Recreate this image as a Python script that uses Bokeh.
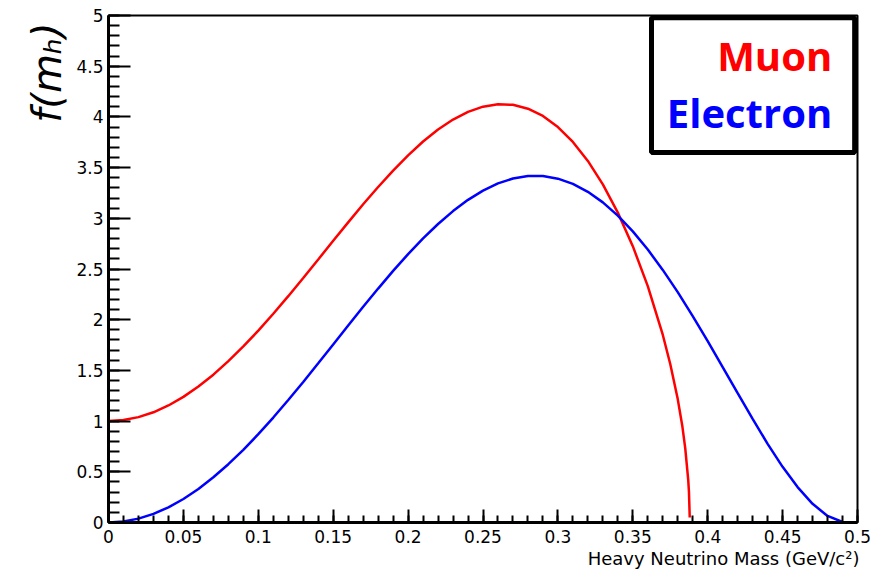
from bokeh.plotting import figure
from bokeh.models import (Range1d, SingleIntervalTicker, CustomJSTickFormatter,
                          Label, BoxAnnotation, Title)
from bokeh.embed import file_html
from bokeh.resources import INLINE

# ---- data ----
mass_mu = [0.00, 0.01, 0.02, 0.03, 0.04, 0.05, 0.06, 0.07, 0.08, 0.09,
           0.10, 0.11, 0.12, 0.13, 0.14, 0.15, 0.16, 0.17, 0.18, 0.19,
           0.20, 0.21, 0.22, 0.23, 0.24, 0.25, 0.26, 0.27, 0.28, 0.29,
           0.30, 0.31, 0.32, 0.33, 0.34, 0.35, 0.36, 0.37, 0.375, 0.38,
           0.383, 0.385, 0.387, 0.3875, 0.388]
f_mu = [1.000, 1.010, 1.039, 1.087, 1.154, 1.239, 1.341, 1.458, 1.591, 1.736,
        1.892, 2.059, 2.232, 2.412, 2.594, 2.778, 2.960, 3.138, 3.309, 3.471,
        3.621, 3.757, 3.876, 3.974, 4.050, 4.101, 4.125, 4.119, 4.081, 4.009,
        3.900, 3.753, 3.566, 3.334, 3.056, 2.725, 2.331, 1.852, 1.563, 1.217,
        0.957, 0.734, 0.421, 0.297, 0.050]

mass_e = [0.00, 0.01, 0.02, 0.03, 0.04, 0.05, 0.06, 0.07, 0.08, 0.09,
          0.10, 0.11, 0.12, 0.13, 0.14, 0.15, 0.16, 0.17, 0.18, 0.19,
          0.20, 0.21, 0.22, 0.23, 0.24, 0.25, 0.26, 0.27, 0.28, 0.29,
          0.30, 0.31, 0.32, 0.33, 0.34, 0.35, 0.36, 0.37, 0.38, 0.39,
          0.40, 0.41, 0.42, 0.43, 0.44, 0.45, 0.46, 0.47, 0.48, 0.49, 0.4932]
f_e = [0.000, 0.009, 0.038, 0.085, 0.150, 0.232, 0.331, 0.446, 0.575, 0.717,
       0.871, 1.035, 1.208, 1.386, 1.570, 1.756, 1.942, 2.127, 2.307, 2.481,
       2.647, 2.802, 2.944, 3.071, 3.182, 3.273, 3.344, 3.392, 3.417, 3.417,
       3.391, 3.340, 3.261, 3.157, 3.026, 2.871, 2.692, 2.491, 2.272, 2.036,
       1.789, 1.533, 1.275, 1.021, 0.776, 0.549, 0.349, 0.184, 0.065, 0.005, 0.000]

series_names = ["Muon", "Electron"]
x_title = "Heavy Neutrino Mass (GeV/c\u00b2)"
y_title = "f(m\u2095)"

# ---- figure ----
p = figure(width=875, height=572, x_range=Range1d(0, 0.5), y_range=Range1d(0, 5),
           output_backend="svg", toolbar_location=None,
           min_border_left=108, min_border_right=18,
           min_border_top=15, min_border_bottom=50)
p.grid.visible = False
p.background_fill_color = "white"
p.border_fill_color = "white"
p.outline_line_color = "black"
p.outline_line_width = 2

fmt = CustomJSTickFormatter(code="return String(parseFloat(tick.toFixed(3)));")

xa = p.xaxis[0]
xa.ticker = SingleIntervalTicker(interval=0.05, num_minor_ticks=5)
xa.formatter = fmt
xa.major_tick_in = 13
xa.major_tick_out = 0
xa.minor_tick_in = 7
xa.minor_tick_out = 0
xa.major_label_standoff = 7

ya = p.yaxis[0]
ya.ticker = SingleIntervalTicker(interval=0.5, num_minor_ticks=5)
ya.formatter = fmt
ya.major_tick_in = 22
ya.major_tick_out = 0
ya.minor_tick_in = 11
ya.minor_tick_out = 0
ya.major_label_standoff = 5

for ax in (xa, ya):
    ax.axis_line_width = 3
    ax.axis_line_color = "black"
    ax.major_tick_line_width = 2
    ax.minor_tick_line_width = 2
    ax.major_tick_line_color = "black"
    ax.minor_tick_line_color = "black"
    ax.major_label_text_font = "DejaVu Sans"
    ax.major_label_text_font_size = "17px"
    ax.major_label_text_color = "black"

p.line(mass_mu, f_mu, line_color="#ff0000", line_width=2.5)
p.line(mass_e, f_e, line_color="#0000ff", line_width=2.5)

# legend-like box
box = BoxAnnotation(left=0.3625, right=0.4981, bottom=3.650, top=4.977,
                    fill_color="white", fill_alpha=1.0,
                    line_color="black", line_width=5, line_alpha=1.0)
p.add_layout(box)

p.add_layout(Label(x=0.4831, y=4.61, text=series_names[0], text_align="right",
                   text_baseline="alphabetic", text_font="Open Sans", text_font_style="bold",
                   text_font_size="40px", text_color="#ff0000"))
p.add_layout(Label(x=0.4831, y=4.04, text=series_names[1], text_align="right",
                   text_baseline="alphabetic", text_font="Open Sans", text_font_style="bold",
                   text_font_size="40px", text_color="#0000ff"))

# axis titles
p.add_layout(Title(text=x_title, align="right", offset=-2, standoff=0,
                   text_font="DejaVu Sans", text_font_style="normal",
                   text_font_size="18px", text_color="black"), "below")
p.add_layout(Title(text=y_title, align="right", offset=7, standoff=8,
                   text_font="DejaVu Sans", text_font_style="italic",
                   text_font_size="40px", text_color="black"), "left")

open("out.html", "w").write(file_html(p, INLINE))
